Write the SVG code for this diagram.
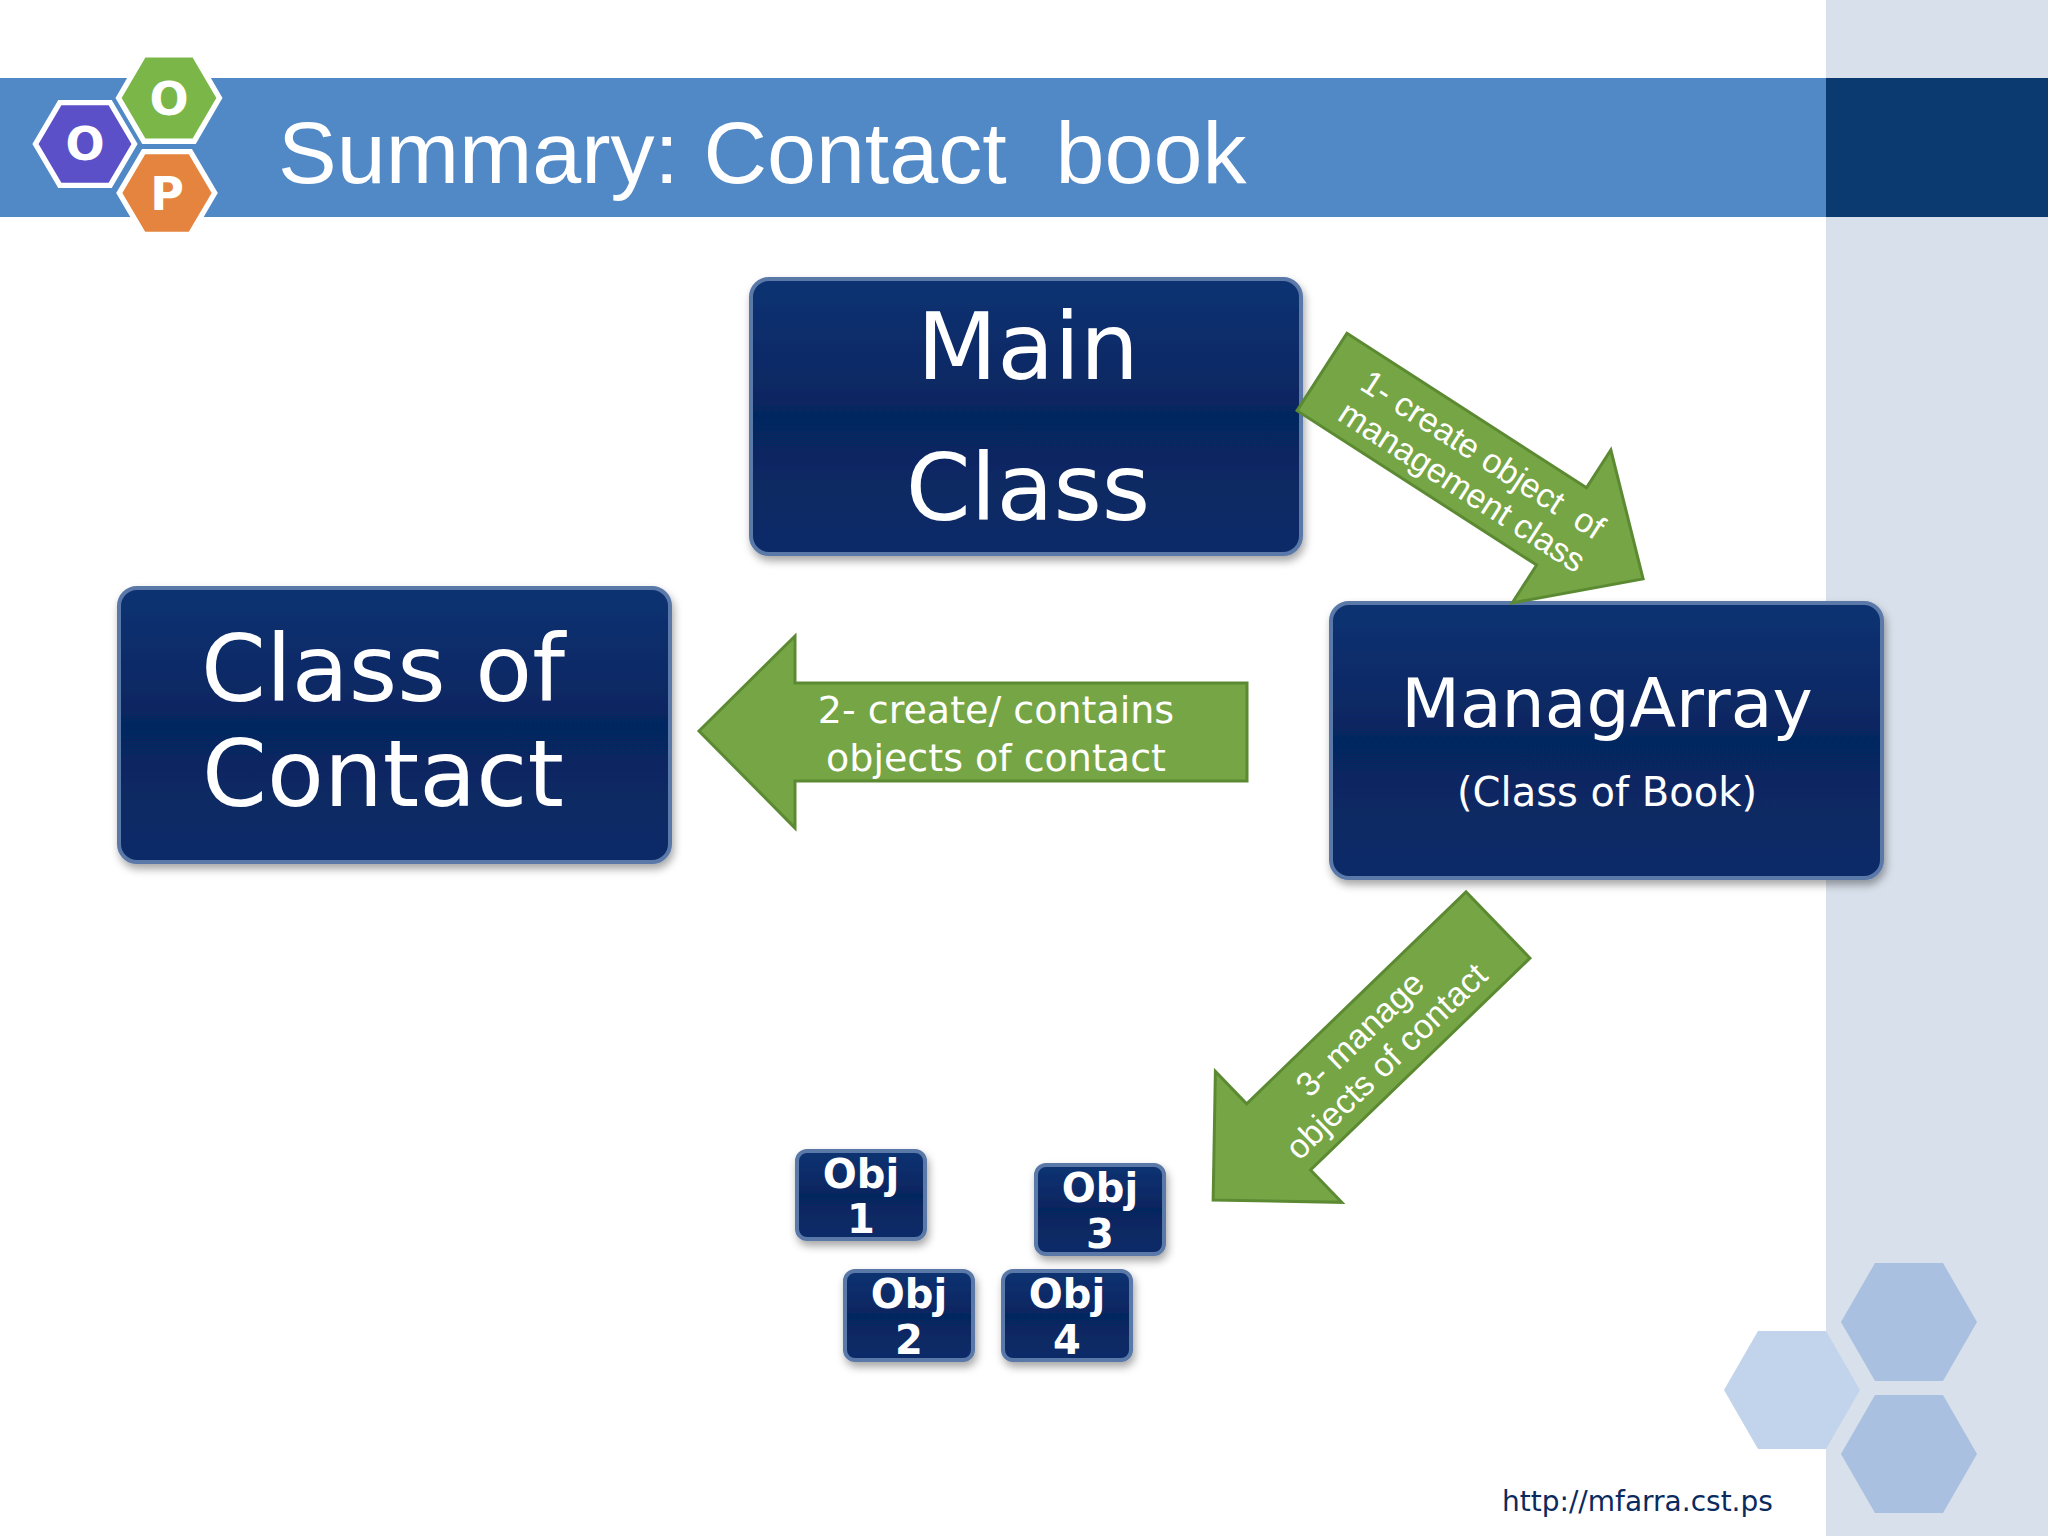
<svg xmlns="http://www.w3.org/2000/svg" width="2048" height="1536" viewBox="0 0 2048 1536">
<defs>
<linearGradient id="bx" x1="0" y1="0" x2="0" y2="1"><stop offset="0" stop-color="#113272"/><stop offset="0.5" stop-color="#062660"/><stop offset="1" stop-color="#0a2c68"/></linearGradient>
<filter id="sh" x="-10%" y="-10%" width="130%" height="130%"><feDropShadow dx="2" dy="5" stdDeviation="4" flood-color="#000" flood-opacity="0.35"/></filter>
</defs>
<style>
.box{fill:url(#bx);stroke:#5a78a8;stroke-width:4;filter:url(#sh)}
.t{font-family:"DejaVu Sans",sans-serif;fill:#fff;text-anchor:middle}
.ob{font-family:"DejaVu Sans",sans-serif;font-weight:bold;fill:#fff;text-anchor:middle;font-size:40px}
.arr{fill:#76a545;stroke:#5c8a33;stroke-width:3}
.at{font-family:"Liberation Sans",sans-serif;fill:#fff;text-anchor:middle;font-size:34px}
.dj{font-family:"DejaVu Sans",sans-serif;font-size:38px}
</style>
<rect width="2048" height="1536" fill="#fff"/>
<rect x="1826" y="0" width="222" height="1536" fill="#d8e0eb"/>
<rect x="0" y="78" width="1826" height="139" fill="#5188c6"/>
<rect x="1826" y="78" width="222" height="139" fill="#0b3a70"/>
<text x="278" y="183" font-family="Liberation Sans,sans-serif" font-size="88" fill="#fff" xml:space="preserve">Summary: Contact  book</text>
<g id="logo">
<polygon points="140,144 113,190 57,190 30,144 57,98 113,98" transform="translate(85,144) scale(0.9) translate(-85,-144)" fill="#5b50c8" stroke="#fff" stroke-width="6"/>
<polygon points="220,193 193,239 141,239 114,193 141,147 193,147" transform="translate(167,193) scale(0.9) translate(-167,-193)" fill="#e4843e" stroke="#fff" stroke-width="6"/>
<polygon points="225,98 197,146 141,146 113,98 141,50 197,50" transform="translate(169,98) scale(0.9) translate(-169,-98)" fill="#7ab648" stroke="#fff" stroke-width="6"/>
<text x="85" y="160" font-family="DejaVu Sans,sans-serif" font-weight="bold" font-size="46" fill="#fff" text-anchor="middle">O</text>
<text x="169" y="115" font-family="DejaVu Sans,sans-serif" font-weight="bold" font-size="46" fill="#fff" text-anchor="middle">O</text>
<text x="167" y="210" font-family="DejaVu Sans,sans-serif" font-weight="bold" font-size="46" fill="#fff" text-anchor="middle">P</text>
</g>
<g id="hexes" fill="#a9c0e0">
<polygon points="1977,1322 1943,1381 1875,1381 1841,1322 1875,1263 1943,1263"/>
<polygon points="1860,1390 1826,1449 1758,1449 1724,1390 1758,1331 1826,1331" fill="#c2d3ec"/>
<polygon points="1977,1454 1943,1513 1875,1513 1841,1454 1875,1395 1943,1395"/>
</g>
<g id="main"><rect class="box" x="751" y="279" width="550" height="275" rx="18"/>
<text class="t" x="1028" y="379" font-size="93">Main</text><text class="t" x="1028" y="520" font-size="93">Class</text></g>
<g id="contact"><rect class="box" x="119" y="588" width="551" height="274" rx="18"/>
<text class="t" x="383" y="701" font-size="93">Class of</text><text class="t" x="383" y="806" font-size="93">Contact</text></g>
<g id="manag"><rect class="box" x="1331" y="603" width="551" height="275" rx="18"/>
<text class="t" x="1607" y="727" font-size="68">ManagArray</text><text class="t" x="1607" y="806" font-size="40">(Class of Book)</text></g>
<g id="obj1"><rect class="box" x="797" y="1151" width="128" height="88" rx="10"/><text class="ob" x="861" y="1188">Obj</text><text class="ob" x="861" y="1233">1</text></g>
<g id="obj3"><rect class="box" x="1036" y="1165" width="128" height="89" rx="10"/><text class="ob" x="1100" y="1202">Obj</text><text class="ob" x="1100" y="1248">3</text></g>
<g id="obj2"><rect class="box" x="845" y="1271" width="128" height="89" rx="10"/><text class="ob" x="909" y="1308">Obj</text><text class="ob" x="909" y="1354">2</text></g>
<g id="obj4"><rect class="box" x="1003" y="1271" width="128" height="89" rx="10"/><text class="ob" x="1067" y="1308">Obj</text><text class="ob" x="1067" y="1354">4</text></g>
<g id="connectors">
<g><polygon class="arr" points="699,731 795,636 795,683 1247,683 1247,781 795,781 795,828"/>
<text class="at dj" x="996" y="723">2- create/ contains</text>
<text class="at dj" x="996" y="771">objects of contact</text></g>
<g transform="translate(1322,372) rotate(32.8)"><polygon class="arr" points="0,-46 285,-46 285,-91 382,0 285,91 285,46 0,46"/>
<text class="at" x="180" y="-6" xml:space="preserve">1- create object  of</text><text class="at" x="180" y="32">management class</text></g>
<g transform="translate(1498,925) rotate(136)"><polygon class="arr" points="0,-46 305,-46 305,-91 396,0 305,91 305,46 0,46"/>
<g transform="translate(175,0) rotate(180)"><text class="at" x="0" y="-6">3- manage</text><text class="at" x="0" y="32">objects of contact</text></g></g>
</g>
<text x="1502" y="1511" font-family="DejaVu Sans,sans-serif" font-size="28" fill="#0b2a5e">http://mfarra.cst.ps</text>
</svg>
